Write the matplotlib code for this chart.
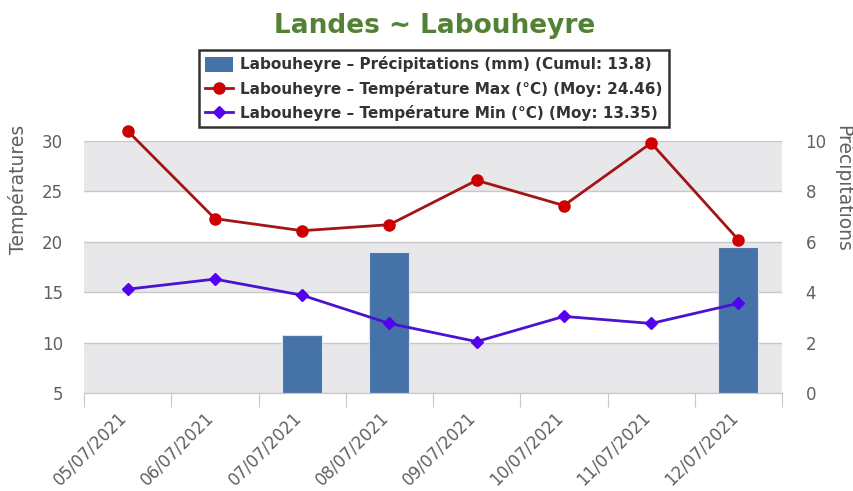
import numpy as np
import matplotlib
matplotlib.use('Agg')
import matplotlib.pyplot as plt
from matplotlib.patches import Rectangle
from matplotlib.lines import Line2D
from matplotlib.transforms import blended_transform_factory

# data
dates = ['05/07/2021', '06/07/2021', '07/07/2021', '08/07/2021',
         '09/07/2021', '10/07/2021', '11/07/2021', '12/07/2021']
temp_max = [31.0, 22.3, 21.1, 21.7, 26.1, 23.6, 29.8, 20.2]
temp_min = [15.3, 16.3, 14.7, 11.9, 10.1, 12.6, 11.9, 13.9]
precip = [0, 0, 2.3, 5.6, 0, 0, 0, 5.8]
temp_ticks = [5, 10, 15, 20, 25, 30]
precip_ticks = [0, 2, 4, 6, 8, 10]

title = 'Landes ~ Labouheyre'
lbl_precip = 'Labouheyre – Précipitations (mm) (Cumul: 13.8)'
lbl_max = 'Labouheyre – Température Max (°C) (Moy: 24.46)'
lbl_min = 'Labouheyre – Température Min (°C) (Moy: 13.35)'

txt_col = '#606060'
x = np.arange(len(dates))

fig = plt.figure(figsize=(8.54, 4.91), dpi=100)
ax = fig.add_axes([0.0984, 0.1996, 0.8173, 0.5132])
ax2 = ax.twinx()
ax.set_zorder(ax2.get_zorder() + 1)
ax.patch.set_visible(False)

ax.set_xlim(-0.5, len(dates) - 0.5)
ax.set_ylim(5, 30)
ax2.set_ylim(0, 10)

# alternating bands + grid (drawn on the back axes)
tr = blended_transform_factory(ax2.transAxes, ax.transData)
for y0 in [5, 15, 25]:
    ax2.add_patch(Rectangle((0, y0), 1, 5, transform=tr, facecolor='#E8E8EA',
                            edgecolor='none', zorder=0))
for t in temp_ticks:
    ax2.plot([0, 1], [t, t], transform=tr, color='#C8C8C8', lw=1, zorder=0.5)

# precipitation bars
ax2.bar(x, precip, width=0.46, color='#4572A7', edgecolor='#DDE6F0',
        lw=0.8, zorder=2)

# temperatures
ax.plot(x, temp_max, color='#A31515', lw=2, marker='o', ms=8,
        markerfacecolor='#CC0000', markeredgecolor='#CC0000', clip_on=False, zorder=5)
ax.plot(x, temp_min, color='#4B12D0', lw=2, marker='D', ms=6,
        markerfacecolor='#5500EE', markeredgecolor='#5500EE', clip_on=False, zorder=5)

# axes styling
for a in (ax, ax2):
    for s in ['top', 'left', 'right']:
        a.spines[s].set_visible(False)
    a.spines['bottom'].set_color('#C0C8D0')
ax2.spines['bottom'].set_visible(False)

ax.set_yticks(temp_ticks)
ax2.set_yticks(precip_ticks)
ax.tick_params(axis='y', length=0, labelsize=12, labelcolor=txt_col, pad=15)
ax2.tick_params(axis='y', length=0, labelsize=12, labelcolor=txt_col, pad=17)

ax.set_xticks(np.arange(len(dates) + 1) - 0.5)
ax.set_xticklabels([])
ax.set_xticks(x, minor=True)
ax.set_xticklabels(dates, minor=True, rotation=45, ha='right', va='baseline',
                   rotation_mode='anchor', fontsize=12, color=txt_col)
ax.tick_params(axis='x', which='major', length=10, color='#C0C8D0')
ax.tick_params(axis='x', which='minor', length=0, pad=18)

ax.set_ylabel('Températures', fontsize=13.5, color=txt_col, va='center')
ax.yaxis.set_label_coords(-0.0946, 0.81)
ax2.set_ylabel('Précipitations', fontsize=13.5, color=txt_col, rotation=270,
               va='center')
ax2.yaxis.set_label_coords(1.087, 0.81)

fig.text(0.509, 0.948, title, ha='center', va='center', fontsize=19,
         fontweight='bold', color='#548235')

handles = [Rectangle((0, 0), 1, 1, facecolor='#4572A7'),
           Line2D([0], [0], color='#A31515', lw=2, marker='o', ms=8,
                  markerfacecolor='#CC0000', markeredgecolor='#CC0000'),
           Line2D([0], [0], color='#4B12D0', lw=2, marker='D', ms=6,
                  markerfacecolor='#5500EE', markeredgecolor='#5500EE')]
leg = fig.legend(handles, [lbl_precip, lbl_max, lbl_min], loc='center',
                 bbox_to_anchor=(0.508, 0.819), frameon=True, fancybox=False,
                 prop={'size': 11, 'weight': 'bold'}, handlelength=1.8,
                 handleheight=1.1, handletextpad=0.5, labelspacing=0.55,
                 borderpad=0.4)
leg.get_frame().set_edgecolor('black')
leg.get_frame().set_linewidth(1.8)
for t in leg.get_texts():
    t.set_color('#333333')

fig.savefig('out.png', dpi=100)
